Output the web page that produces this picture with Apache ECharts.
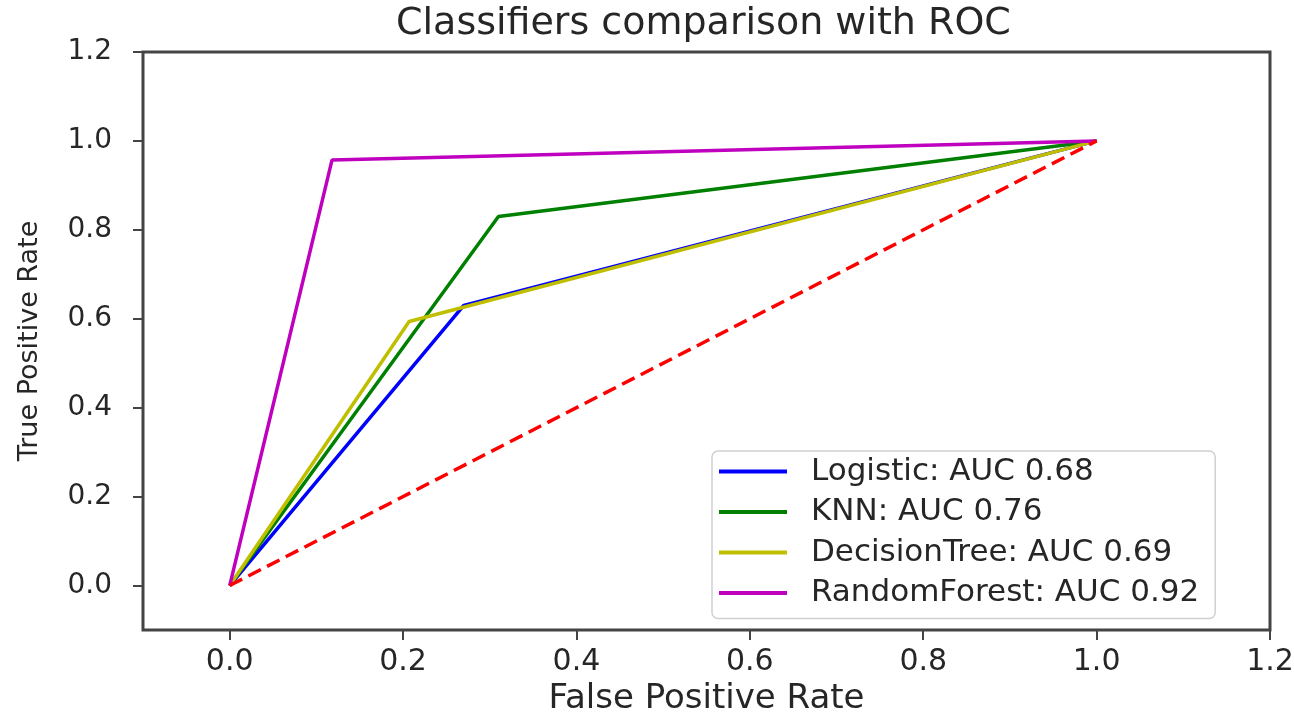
<!DOCTYPE html>
<html>
<head>
<meta charset="utf-8">
<script src="https://cdn.jsdelivr.net/npm/echarts@6/dist/echarts.min.js"></script>
<style>
html,body{margin:0;padding:0;background:#fff;}
#main{width:1294px;height:714px;}
</style>
</head>
<body>
<div id="main"></div>
<script>
const seriesNames = ['Logistic: AUC 0.68', 'KNN: AUC 0.76', 'DecisionTree: AUC 0.69', 'RandomForest: AUC 0.92'];
const logisticFpr = [0, 0.27, 1];
const logisticTpr = [0, 0.63, 1];
const knnFpr = [0, 0.31, 1];
const knnTpr = [0, 0.83, 1];
const treeFpr = [0, 0.207, 1];
const treeTpr = [0, 0.594, 1];
const forestFpr = [0, 0.118, 1];
const forestTpr = [0, 0.957, 1];
const chanceFpr = [0, 1];
const chanceTpr = [0, 1];
const xTicks = [0.0, 0.2, 0.4, 0.6, 0.8, 1.0, 1.2];
const yTicks = [0.0, 0.2, 0.4, 0.6, 0.8, 1.0, 1.2];

const colors = ['#0000ff', '#008000', '#bfbf00', '#bf00bf'];
const zip = (xs, ys) => xs.map((x, i) => [x, ys[i]]);
const textColor = '#262626';
const font = 'DejaVu Sans';

const curves = [
  zip(logisticFpr, logisticTpr),
  zip(knnFpr, knnTpr),
  zip(treeFpr, treeTpr),
  zip(forestFpr, forestTpr)
];

const series = curves.map((d, i) => ({
  name: seriesNames[i],
  type: 'line',
  data: d,
  showSymbol: false,
  symbol: 'none',
  animation: false,
  color: colors[i],
  lineStyle: { color: colors[i], width: 3.5 },
  z: 2 + i
}));
series.push({
  name: 'chance',
  type: 'line',
  data: zip(chanceFpr, chanceTpr),
  showSymbol: false,
  symbol: 'none',
  animation: false,
  lineStyle: { color: '#ff0000', width: 3.5, type: [14, 7] },
  z: 10
});

const chart = echarts.init(document.getElementById('main'));
chart.setOption({
  backgroundColor: '#fff',
  animation: false,
  title: {
    text: 'Classifiers comparison with ROC',
    left: 396,
    top: 5,
    padding: 0,
    textStyle: { fontFamily: font, fontSize: 38, fontWeight: 'normal', color: textColor }
  },
  grid: {
    left: 143, right: 24, top: 52, bottom: 84,
    outerBoundsMode: 'none',
    containLabel: false,
    show: true, borderColor: '#444', borderWidth: 3, backgroundColor: 'transparent'
  },
  legend: {
    data: seriesNames,
    orient: 'vertical',
    left: 712,
    top: 451,
    padding: [5, 16, 10, 7],
    itemGap: 9.5,
    itemWidth: 68,
    itemHeight: 4,
    icon: 'rect',
    backgroundColor: 'rgba(255,255,255,0.85)',
    borderColor: '#d0d0d0',
    borderWidth: 1.5,
    borderRadius: 6,
    textStyle: { fontFamily: font, fontSize: 31, lineHeight: 30, color: textColor, padding: [0, 0, 0, 19] }
  },
  xAxis: {
    type: 'value',
    min: -0.1,
    max: 1.2,
    name: 'False Positive Rate',
    nameLocation: 'middle',
    nameGap: 51,
    nameTextStyle: { fontFamily: font, fontSize: 34, color: textColor },
    axisLine: { show: false, onZero: false },
    axisTick: { show: true, customValues: xTicks, length: 10, lineStyle: { color: '#444', width: 2 } },
    axisLabel: { customValues: xTicks, formatter: v => v.toFixed(1), margin: 17, fontFamily: font, fontSize: 30, color: textColor },
    splitLine: { show: false }
  },
  yAxis: {
    type: 'value',
    min: -0.1,
    max: 1.2,
    name: 'True Positive Rate',
    nameLocation: 'middle',
    nameGap: 100,
    nameTextStyle: { fontFamily: font, fontSize: 27, color: textColor },
    axisLine: { show: false, onZero: false },
    axisTick: { show: true, customValues: yTicks, length: 10, lineStyle: { color: '#444', width: 2 } },
    axisLabel: { customValues: yTicks, formatter: v => v.toFixed(1), margin: 31, fontFamily: font, fontSize: 28, color: textColor },
    splitLine: { show: false }
  },
  series: series
});
</script>
</body>
</html>
